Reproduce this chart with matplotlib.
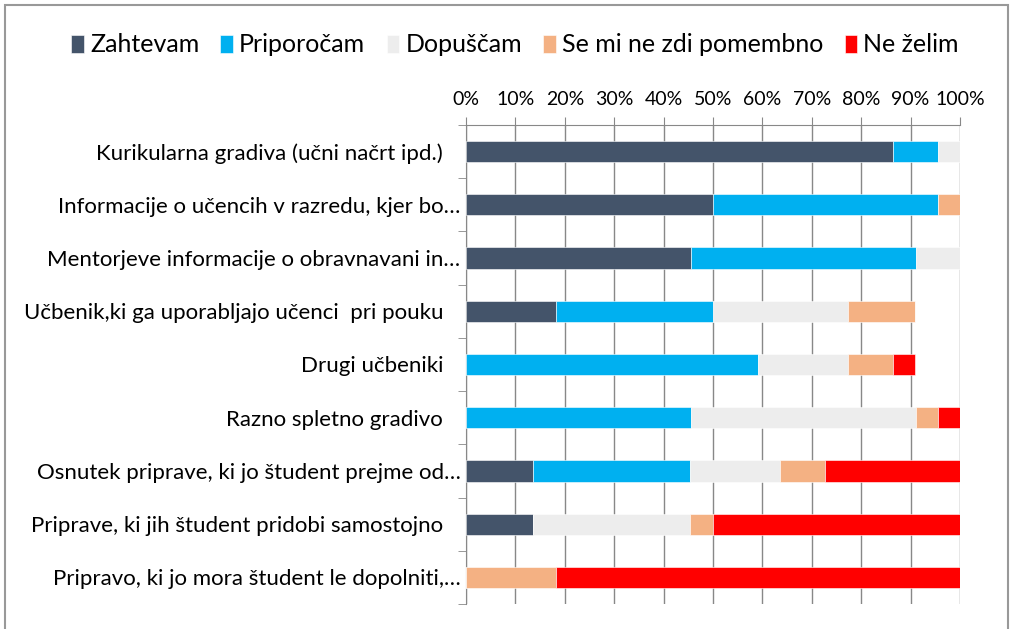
import numpy as np
import matplotlib.pyplot as plt
from matplotlib.ticker import PercentFormatter

plt.rcParams['font.family'] = ['Lato', 'DejaVu Sans']

categories = [
    "Kurikularna gradiva (učni načrt ipd.)   ",
    "Informacije o učencih v razredu, kjer bo…",
    "Mentorjeve informacije o obravnavani in…",
    "Učbenik,ki ga uporabljajo učenci  pri pouku   ",
    "Drugi učbeniki   ",
    "Razno spletno gradivo   ",
    "Osnutek priprave, ki jo študent prejme od…",
    "Priprave, ki jih študent pridobi samostojno   ",
    "Pripravo, ki jo mora študent le dopolniti,…",
]
series = ["Zahtevam", "Priporočam", "Dopuščam", "Se mi ne zdi pomembno", "Ne želim"]
colors = ["#44546A", "#00B0F0", "#EDEDED", "#F4B183", "#FF0000"]

# percentages per category (share of 22 responses)
zahtevam   = [86.4, 50.0, 45.5, 18.2, 0.0, 0.0, 13.6, 13.6, 0.0]
priporocam = [9.1, 45.5, 45.5, 31.8, 59.1, 45.5, 31.8, 0.0, 0.0]
dopuscam   = [4.5, 0.0, 9.1, 27.3, 18.2, 45.5, 18.2, 31.8, 0.0]
se_mi_ne   = [0.0, 4.5, 0.0, 13.6, 9.1, 4.5, 9.1, 4.5, 18.2]
ne_zelim   = [0.0, 0.0, 0.0, 0.0, 4.5, 4.5, 27.3, 50.0, 81.8]
values = [zahtevam, priporocam, dopuscam, se_mi_ne, ne_zelim]

fig = plt.figure(figsize=(10.11, 6.29), dpi=100)
ax = fig.add_axes([466/1011, 1 - 604/629, 494/1011, 479/629])

y = np.arange(len(categories))
left = np.zeros(len(categories))
for name, vals, c in zip(series, values, colors):
    vals = np.array(vals)
    ax.barh(y, vals, left=left, height=0.4, color=c, label=name,
            edgecolor='white', linewidth=0.4, zorder=3)
    left += vals

ax.set_xlim(0, 100)
ax.set_ylim(len(categories) - 0.5, -0.5)
ax.xaxis.tick_top()
ax.set_xticks(np.arange(0, 101, 10))
ax.xaxis.set_major_formatter(PercentFormatter(decimals=0))
ax.tick_params(axis='x', length=6, color='#888888', labelsize=14, pad=6)
ax.grid(axis='x', color='#888888', linewidth=1, zorder=0)

ax.set_yticks(y)
ax.set_yticklabels(categories, fontsize=16)
ax.set_yticks(np.arange(len(categories) + 1) - 0.5, minor=True)
ax.tick_params(axis='y', which='major', length=0, pad=4)
ax.tick_params(axis='y', which='minor', length=6, color='#888888')

for s in ['right', 'bottom']:
    ax.spines[s].set_visible(False)
for s in ['top', 'left']:
    ax.spines[s].set_color('#888888')

fig.legend(loc='center', bbox_to_anchor=(515/1011, 1 - 45/629), ncol=5, frameon=False,
           fontsize=18, handlelength=0.5, handleheight=0.7, handletextpad=0.25,
           columnspacing=0.85)

fig.patches.append(plt.Rectangle((5/1011, -0.05), 1003/1011, 1 - 5/629 + 0.05,
                                 transform=fig.transFigure, fill=False,
                                 edgecolor='#999999', linewidth=1.5))

fig.savefig('out.png', dpi=100)
